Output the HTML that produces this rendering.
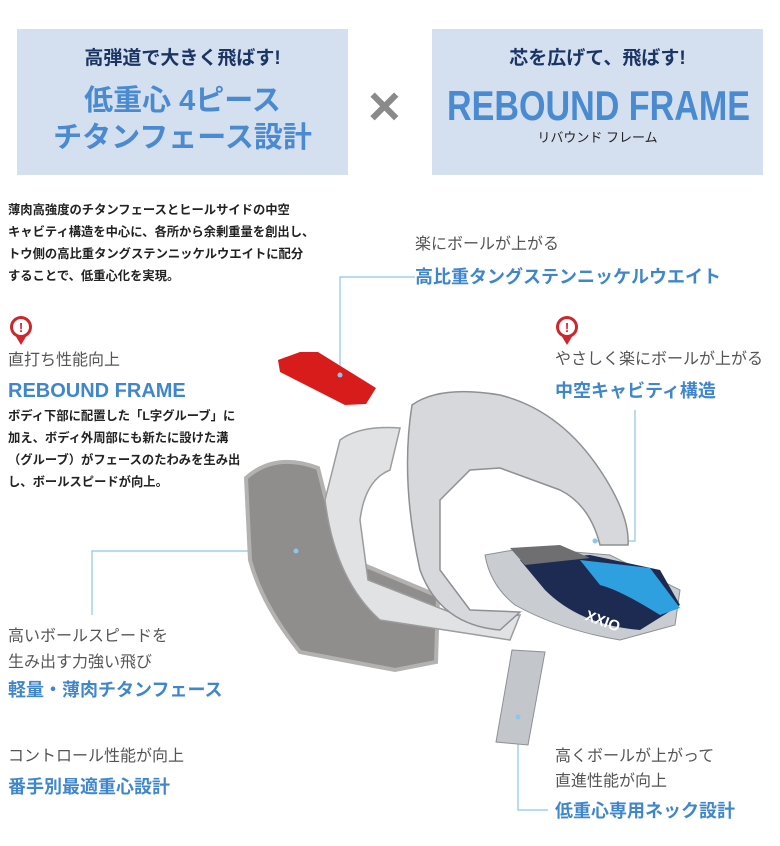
<!DOCTYPE html>
<html><head><meta charset="utf-8"><style>
body{margin:0;width:780px;height:846px;background:#fff;position:relative;overflow:hidden;font-family:"Liberation Sans","Noto Sans CJK JP",sans-serif}
.a{position:absolute;white-space:nowrap;line-height:1}
.box{position:absolute;background:#d4dff0;top:29px;height:146px}
.g{color:#555;font-size:16px}
.b{color:#3f86cc;font-size:18px;font-weight:bold}
.p{font-size:12.3px;color:#222;line-height:22px;font-weight:bold}
</style></head><body>
<div class="box" style="left:17px;width:331px"></div>
<div class="box" style="left:432px;width:331px"></div>
<div class="a" style="left:17px;width:331px;text-align:center;top:49px;font-size:19px;font-weight:bold;color:#1b3563">高弾道で大きく飛ばす!</div>
<div class="a" style="left:17px;width:331px;text-align:center;top:87px;font-size:29px;font-weight:bold;color:#4a8ad0">低重心 4ピース</div>
<div class="a" style="left:17px;width:331px;text-align:center;top:124px;font-size:29px;font-weight:bold;color:#4a8ad0">チタンフェース設計</div>
<div class="a" style="left:432px;width:331px;text-align:center;top:49px;font-size:19px;font-weight:bold;color:#1b3563">芯を広げて、飛ばす!</div>
<div class="a" style="left:432px;width:331px;text-align:center;top:131px;font-size:13px;color:#222">リバウンド フレーム</div>
<div class="a" style="left:368px;top:78px;font-size:56px;color:#8a8a8a;font-weight:bold">×</div>

<div class="a p" style="left:8px;top:199px">薄肉高強度のチタンフェースとヒールサイドの中空<br>キャビティ構造を中心に、各所から余剰重量を創出し、<br>トウ側の高比重タングステンニッケルウエイトに配分<br>することで、低重心化を実現。</div>

<svg style="position:absolute;left:0;top:0" width="780" height="846">
<text x="447" y="120" font-size="42" font-weight="bold" fill="#4a8ad0" textLength="303" lengthAdjust="spacingAndGlyphs" font-family="Liberation Sans, sans-serif">REBOUND FRAME</text>
<g fill="none" stroke="#8cc6ea" stroke-width="1.2">
<polyline points="415,277 340,277 340,375"/>
<polyline points="635,410 635,541 595,541"/>
<polyline points="296,551 92,551 92,615"/>
<polyline points="518,717 518,810 548,810"/>
</g>
<g fill="#d0262b"><circle cx="21" cy="327" r="11"/><polygon points="15,335 27,335 21,345"/>
<circle cx="567" cy="327" r="11"/><polygon points="561,335 573,335 567,345"/></g>
<circle cx="21" cy="327" r="8" fill="#fff"/><circle cx="567" cy="327" r="8" fill="#fff"/>
<text x="21" y="332" font-size="13" font-weight="bold" fill="#d0262b" text-anchor="middle">!</text>
<text x="567" y="332" font-size="13" font-weight="bold" fill="#d0262b" text-anchor="middle">!</text>
<polygon points="278,360 300,352 318,352 376,388 366,404 345,405 280,372" fill="#d81c1c"/>
<path d="M246,478 Q275,452 318,468 L340,555 L438,596 L436,662 L395,670 L300,652 Q262,605 250,560 Z" fill="#8f8e8c" stroke="#b3b2b0" stroke-width="4"/>
<path d="M340,440 Q360,425 400,428 L390,470 Q365,480 360,520 L368,580 L470,620 L520,615 L510,640 L380,620 Q335,580 325,500 Z" fill="#e1e2e4" stroke="#9a9c9e" stroke-width="1.5"/>
<path d="M412,405 Q440,385 500,395 Q560,410 600,470 Q630,515 628,545 L600,545 Q590,505 560,490 L500,468 L470,470 L440,500 L440,570 L470,610 L520,612 L500,630 Q440,625 420,570 Q400,480 412,405 Z" fill="#d6d8db" stroke="#8d9094" stroke-width="1.5"/>
<path d="M485,555 L525,548 L610,555 L680,590 L675,625 L620,640 Q560,630 515,605 Q490,585 485,555 Z" fill="#c9ccd0" stroke="#8d9094"/>
<path d="M520,560 L590,555 L660,570 L680,605 L640,630 Q580,625 545,590 Z" fill="#1d2b52"/>
<path d="M580,560 L650,568 L680,608 L660,615 Q620,590 600,585 Z" fill="#2ea0df"/>
<path d="M510,548 L560,545 L590,558 L525,565 Z" fill="#6f6f72"/>
<text x="585" y="625" font-size="15" font-weight="bold" fill="#fff" transform="rotate(20 600 620)">XXIO</text>
<path d="M512,650 L545,652 L528,745 L496,742 Z" fill="#c3c6ca" stroke="#8d9094"/>
<g fill="#8cc6ea"><circle cx="340" cy="375" r="2.5"/><circle cx="595" cy="541" r="2.5"/><circle cx="296" cy="551" r="2.5"/><circle cx="518" cy="717" r="2.5"/></g>
</svg>

<div class="a g" style="left:415px;top:237px">楽にボールが上がる</div>
<div class="a b" style="left:415px;top:268px">高比重タングステンニッケルウエイト</div>
<div class="a g" style="left:8px;top:353px">直打ち性能向上</div>
<div class="a b" style="left:8px;top:381px;font-size:20px">REBOUND FRAME</div>
<div class="a p" style="left:8px;top:405px">ボディ下部に配置した「L字グルーブ」に<br>加え、ボディ外周部にも新たに設けた溝<br>（グルーブ）がフェースのたわみを生み出<br>し、ボールスピードが向上。</div>
<div class="a g" style="left:555px;top:352px">やさしく楽にボールが上がる</div>
<div class="a b" style="left:555px;top:382px">中空キャビティ構造</div>
<div class="a g" style="left:8px;top:629px">高いボールスピードを</div>
<div class="a g" style="left:8px;top:655px">生み出す力強い飛び</div>
<div class="a b" style="left:8px;top:681px">軽量・薄肉チタンフェース</div>
<div class="a g" style="left:8px;top:749px">コントロール性能が向上</div>
<div class="a b" style="left:8px;top:778px">番手別最適重心設計</div>
<div class="a g" style="left:555px;top:749px">高くボールが上がって</div>
<div class="a g" style="left:555px;top:774px">直進性能が向上</div>
<div class="a b" style="left:555px;top:802px">低重心専用ネック設計</div>
</body></html>
